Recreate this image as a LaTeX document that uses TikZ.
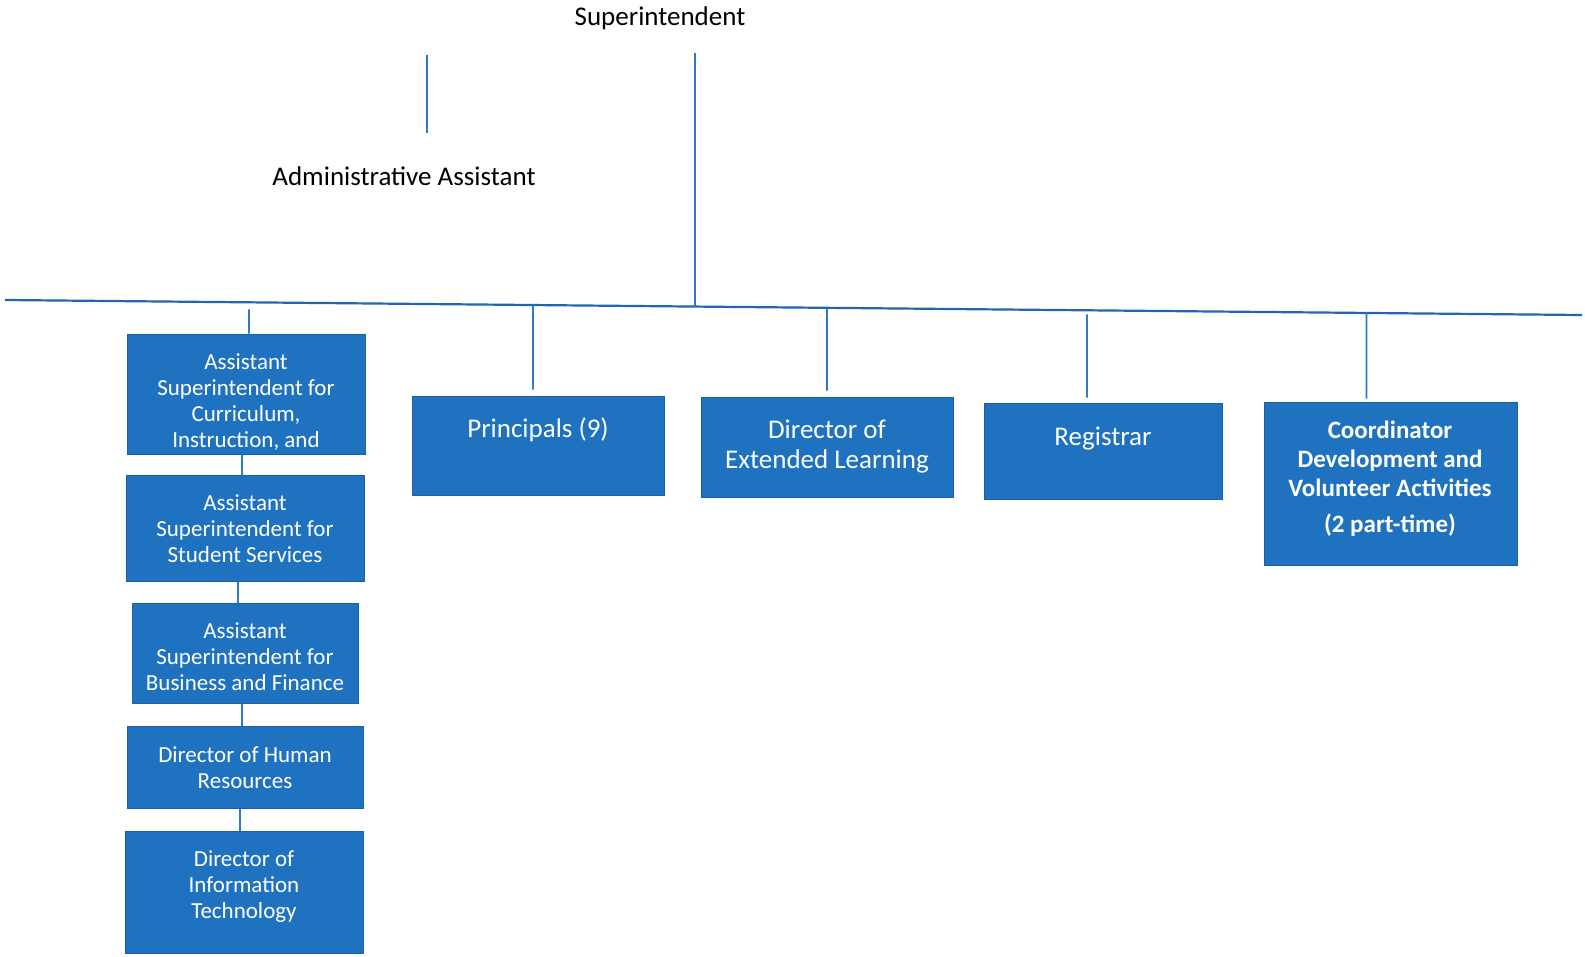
\documentclass[tikz,border=0pt]{standalone}
\usepackage{fontspec}
\setmainfont{Carlito}
\definecolor{boxblue}{HTML}{1F72C0}
\definecolor{boxedge}{HTML}{1A62A8}
\definecolor{linkblue}{HTML}{2F7BC2}
\definecolor{hubblue}{HTML}{2266B0}
\begin{document}
\begin{tikzpicture}[x=1pt,y=-1pt,
  box/.style={draw=boxedge, fill=boxblue, line width=1pt, inner sep=0pt},
  txtL/.style={text=white, font=\fontsize{23}{26}\selectfont, align=center, inner sep=0pt},
  txtR/.style={text=white, font=\fontsize{27}{30}\selectfont, align=center, inner sep=0pt},
  txtB/.style={text=white, font=\fontsize{25}{29}\selectfont\bfseries, align=center, inner sep=0pt},
  title/.style={text=black, font=\fontsize{27}{30}\selectfont, inner sep=0pt},
  link/.style={draw=linkblue, line width=1.6pt},
  hub/.style={draw=hubblue, line width=2.2pt}]
\useasboundingbox (0,0) rectangle (1585,956);

% top of the chart
\node[title] (sup) at (660,18) {Superintendent};
\node[title] (admin) at (404,176) {Administrative Assistant};
\coordinate (suptop) at (695,53);
\coordinate (admtop) at (427,55);
\coordinate (admbot) at (427,133);

% horizontal distribution line
\coordinate (hubL) at (5,300);
\coordinate (hubR) at (1582,315);
\draw[hub] (hubL) -- (hubR);

\draw[link] (admtop) -- (admbot);
\draw[link] (suptop) -- (intersection of hubL--hubR and suptop--admin.south -| suptop);

% left column of boxes
\node[box, minimum width=238, minimum height=120] (a1) at (246,394) {};
\node[txtL] (a1t) at (246,402) {Assistant\\Superintendent for\\Curriculum,\\Instruction, and};
\node[box, minimum width=238, minimum height=106] (a2) at (245,528) {};
\node[txtL] (a2t) at (245,529) {Assistant\\Superintendent for\\Student Services};
\node[box, minimum width=226, minimum height=100] (a3) at (245,653) {};
\node[txtL] (a3t) at (245,657) {Assistant\\Superintendent for\\Business and Finance};
\node[box, minimum width=236, minimum height=82] (a4) at (245,767) {};
\node[txtL] (a4t) at (245,768) {Director of Human\\Resources};
\node[box, minimum width=238, minimum height=122] (a5) at (244,892) {};
\node[txtL] (a5t) at (244,887) {Director of\\Information\\Technology};

% right row of boxes
\node[box, minimum width=252, minimum height=99] (prin) at (538,445.5) {};
\node[txtR] (print) at (538,430) {Principals (9)};
\node[box, minimum width=252, minimum height=100] (del) at (827,447) {};
\node[txtR] (delt) at (827,447) {Director of\\Extended Learning};
\node[box, minimum width=238, minimum height=96] (reg) at (1103,451) {};
\node[txtR] (regt) at (1103,439) {Registrar};
\node[box, minimum width=253, minimum height=163] (coord) at (1390.5,483.5) {};
\node[txtB] (coordt) at (1390,479) {Coordinator\\Development and\\Volunteer Activities\\[7pt](2 part-time)};

% connectors from the distribution line
\draw[link, shorten <=7pt] (intersection of hubL--hubR and {[xshift=3pt]a1.north}--{[xshift=3pt]a1.south}) -- ([xshift=3pt]a1.north);
\draw[link, shorten >=6pt] (intersection of hubL--hubR and {[xshift=-5pt]prin.north}--{[xshift=-5pt]prin.south}) -- ([xshift=-5pt]prin.north);
\draw[link, shorten >=6pt] (intersection of hubL--hubR and del.north--del.south) -- (del.north);
\draw[link, shorten <=4pt, shorten >=5pt] (intersection of hubL--hubR and {[xshift=-16pt]reg.north}--{[xshift=-16pt]reg.south}) -- ([xshift=-16pt]reg.north);
\draw[link, shorten >=3pt] (intersection of hubL--hubR and {[xshift=-24pt]coord.north}--{[xshift=-24pt]coord.south}) -- ([xshift=-24pt]coord.north);

% connectors down the left column
\draw[link] ([xshift=-4pt]a1.south) -- ([xshift=-4pt]a1.south |- a2.north);
\draw[link] ([xshift=-7pt]a2.south) -- ([xshift=-7pt]a2.south |- a3.north);
\draw[link] ([xshift=-3pt]a3.south) -- ([xshift=-3pt]a3.south |- a4.north);
\draw[link] ([xshift=-5pt]a4.south) -- ([xshift=-5pt]a4.south |- a5.north);
\end{tikzpicture}
\end{document}
